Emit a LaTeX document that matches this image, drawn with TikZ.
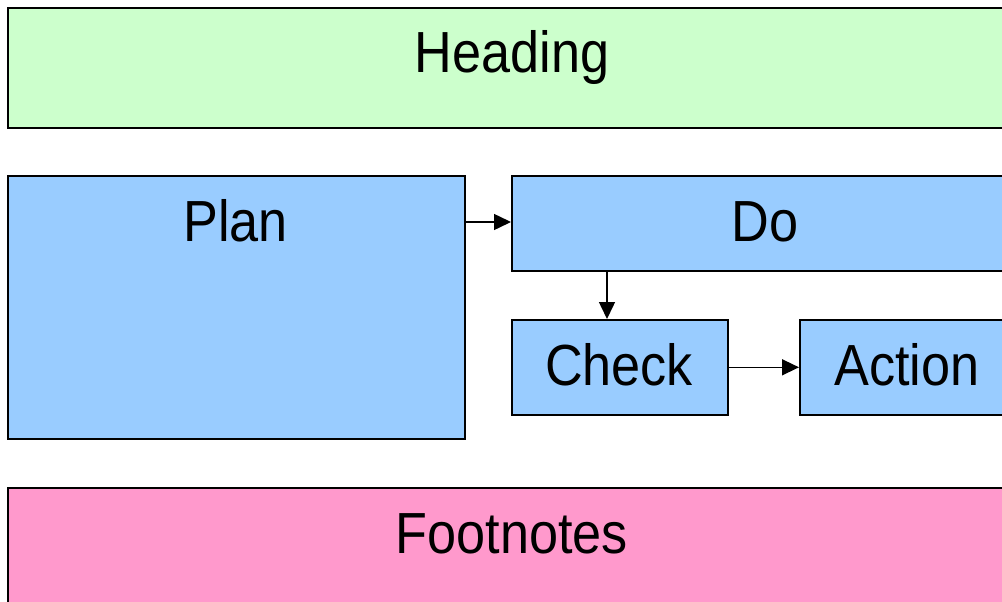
\documentclass[tikz,border=0pt]{standalone}
\usepackage{fontspec}
\setmainfont[FakeStretch=0.9]{Liberation Sans}
\usetikzlibrary{arrows.meta}
\definecolor{headgreen}{HTML}{CCFFCC}
\definecolor{boxblue}{HTML}{99CCFF}
\definecolor{footpink}{HTML}{FF99CC}
\tikzset{
  panel/.style={draw=black, line width=1.6pt, inner sep=0pt},
  lbl/.style={anchor=base, inner sep=0pt, font=\fontsize{58}{60}\selectfont},
  conn/.style={line width=1.5pt, -{Triangle[length=17pt 0,width=16pt 0]}}
}
\begin{document}
\begin{tikzpicture}[x=1pt,y=-1pt]
\useasboundingbox (0,0) rectangle (1002,602);
\clip (0,0) rectangle (1002,602);
\fill[white] (0,0) rectangle (1002,602);
% boxes
\node[panel, fill=headgreen, minimum width=1010pt, minimum height=120pt, anchor=north west] (head) at (7,7) {};
\node[panel, fill=boxblue, minimum width=457pt, minimum height=263pt, anchor=north west] (plan) at (7,175) {};
\node[panel, fill=boxblue, minimum width=508pt, minimum height=95pt, anchor=north west] (do) at (511,175) {};
\node[panel, fill=boxblue, minimum width=216pt, minimum height=95pt, anchor=north west] (check) at (511,319) {};
\node[panel, fill=boxblue, minimum width=216pt, minimum height=95pt, anchor=north west] (action) at (799,319) {};
\node[panel, fill=footpink, minimum width=1010pt, minimum height=130pt, anchor=north west] (foot) at (7,487) {};
% labels
\node[lbl] (theading) at (512,73) {Heading};
\node[lbl] (tplan) at (235.5,241) {Plan};
\node[lbl] (tdo) at (765,241) {Do};
\node[lbl] (tcheck) at (619,385) {Check};
\node[lbl] (taction) at (907,385) {Action};
\node[lbl] (tfoot) at (512,553) {Footnotes};
% connectors
\draw[conn] (plan.east |- 0,222) -- (do.west |- 0,222);
\draw[conn] (do.south -| 607,0) -- (check.north -| 607,0);
\draw[conn] (check.east) -- (action.west);
\end{tikzpicture}
\end{document}
